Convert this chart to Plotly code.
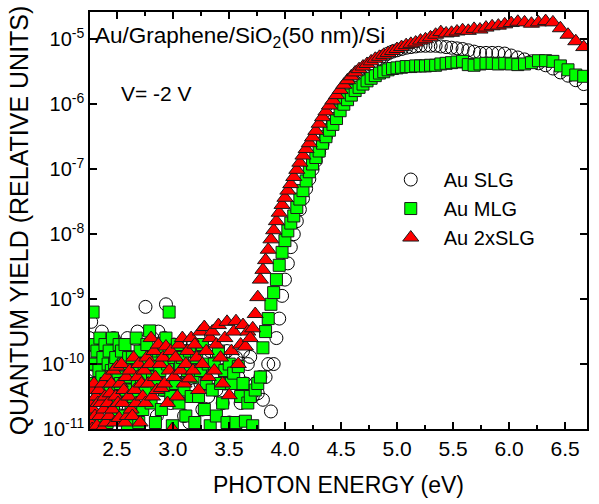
import plotly.graph_objects as go

# Monochromator scan: constant 2 nm wavelength step, converted to photon energy
wavelength_nm = list(range(550, 184, -2))
photon_energy_ev = [1239.84 / w for w in wavelength_nm]

# log10 of the quantum yield, one value per wavelength step (550 nm -> 186 nm)
slg_log10 = [
    -9.6, -10.2, -9.35, -10.5, -9.9, -10.8, -10.1, -9.7, -10.4, -10.0,
    -9.8, -10.6, -10.2, -9.5, -10.9, -10.3, -9.9, -10.5, -10.1, -9.7,
    -10.4, -9.9, -10.7, -10.0, -9.6, -10.3, -10.8, -9.8, -10.2, -10.5,
    -9.7, -10.1, -10.6, -9.9, -10.4, -10.0, -9.6, -10.7, -10.2, -9.8,
    -10.3, -9.7, -10.9, -10.0, -9.5, -10.4, -10.1, -9.8, -10.6, -9.9,
    -9.12, -10.2, -9.7, -10.5, -10.0, -9.6, -10.3, -9.9, -10.8, -9.5,
    -10.1, -9.8, -10.4, -9.6, -9.08, -10.2, -9.9, -10.6, -10.0, -9.7,
    -10.3, -9.9, -10.5, -9.7, -10.1, -10.8, -9.8, -10.2, -10.9, -10.0,
    -9.7, -10.4, -10.0, -9.6, -10.3, -10.7, -9.9, -10.1, -10.5, -9.8,
    -10.2, -9.7, -10.4, -10.0, -9.9, -10.6, -10.3, -9.8, -10.9, -10.1,
    -10.4, -9.9, -10.2, -10.6, -9.8, -10.3, -10.0, -9.89, -10.5, -10.3,
    -10.45, -10.2, -10.55, -10.2, -10.0, -10.73, -10.0, -9.6, -9.3, -8.95,
    -8.7, -8.45, -8.2, -8.0, -7.8, -7.62, -7.45, -7.3, -7.15, -7.0,
    -6.87, -6.74, -6.62, -6.5, -6.38, -6.26, -6.14, -6.03, -5.93, -5.83,
    -5.74, -5.66, -5.58, -5.51, -5.45, -5.39, -5.34, -5.30, -5.26, -5.22,
    -5.19, -5.17, -5.15, -5.13, -5.12, -5.11, -5.10, -5.10, -5.10, -5.10,
    -5.11, -5.12, -5.13, -5.14, -5.15, -5.17, -5.19, -5.21, -5.21, -5.21,
    -5.21, -5.22, -5.25, -5.28, -5.31, -5.34, -5.37, -5.40, -5.45, -5.51,
    -5.56, -5.63, -5.69,
]

mlg_log10 = [
    -10.0, -10.6, -9.7, -10.9, -9.2, -10.3, -10.0, -10.8, -9.8, -10.4,
    -10.1, -9.6, -11.0, -10.2, -9.9, -10.5, -9.7, -10.3, -10.9, -10.0,
    -9.8, -10.4, -10.1, -9.6, -10.7, -10.0, -9.9, -10.5, -10.2, -9.7,
    -10.3, -9.8, -10.8, -10.0, -9.7, -10.4, -10.95, -9.9, -10.2, -10.6,
    -9.9, -10.5, -10.1, -9.6, -10.3, -10.9, -9.8, -10.2, -10.7, -10.0,
    -10.4, -9.7, -10.0, -9.49, -10.6, -10.2, -9.9, -10.9, -10.3, -9.8,
    -10.1, -10.7, -9.8, -10.4, -9.6, -10.0, -9.2, -10.5, -10.95, -9.9,
    -10.3, -9.7, -10.6, -10.0, -9.9, -10.4, -10.8, -10.1, -9.8, -10.5,
    -10.2, -10.9, -9.9, -10.5, -10.1, -9.7, -10.7, -10.3, -10.0, -10.95,
    -10.4, -10.0, -10.8, -9.8, -10.3, -10.6, -10.1, -10.9, -10.0, -10.3,
    -10.14, -10.9, -10.04, -10.5, -10.3, -10.88, -10.6, -10.5, -10.95, -10.4,
    -10.3, -10.2, -9.75, -9.5, -9.3, -9.08, -8.9, -8.7, -8.48, -8.28,
    -8.1, -7.95, -7.83, -7.72, -7.59, -7.46, -7.33, -7.18, -7.04, -6.92,
    -6.82, -6.72, -6.60, -6.50, -6.40, -6.31, -6.22, -6.10, -6.00, -5.93,
    -5.86, -5.79, -5.74, -5.69, -5.64, -5.60, -5.56, -5.52, -5.50, -5.47,
    -5.45, -5.44, -5.43, -5.42, -5.42, -5.41, -5.41, -5.41, -5.40, -5.40,
    -5.38, -5.37, -5.36, -5.35, -5.34, -5.39, -5.40, -5.38, -5.37, -5.37,
    -5.38, -5.37, -5.38, -5.39, -5.38, -5.36, -5.33, -5.33, -5.34, -5.41,
    -5.47, -5.55, -5.57,
]

slg2x_log10 = [
    -10.6, -10.9, -10.4, -11.0, -10.7, -10.3, -10.8, -10.5, -10.95, -10.6,
    -10.4, -10.8, -10.6, -11.0, -10.3, -10.7, -10.5, -10.9, -10.2, -10.6,
    -10.8, -10.45, -10.3, -10.7, -10.1, -10.9, -10.5, -10.04, -10.6, -10.83,
    -10.3, -10.0, -10.6, -10.4, -10.9, -10.2, -10.8, -10.5, -10.1, -10.7,
    -10.8, -9.9, -10.4, -10.6, -10.2, -10.0, -10.9, -10.3, -10.5, -10.1,
    -10.6, -9.9, -10.3, -10.0, -9.6, -10.5, -9.8, -10.2, -10.4, -9.7,
    -10.0, -10.37, -9.9, -10.3, -9.73, -10.6, -10.1, -9.8, -11.0, -10.2,
    -9.9, -10.5, -9.7, -10.1, -9.6, -10.3, -10.0, -9.8, -10.22, -9.6,
    -10.1, -9.7, -9.9, -10.4, -9.5, -10.0, -9.43, -9.8, -10.2, -9.6,
    -9.5, -10.1, -9.7, -9.4, -9.9, -10.3, -9.6, -9.35, -10.48, -9.8,
    -9.5, -9.34, -10.0, -9.7, -9.4, -9.73, -9.5, -9.6, -9.45, -9.23,
    -8.97, -8.7, -8.55, -8.4, -8.24, -8.08, -7.94, -7.8, -7.67, -7.55,
    -7.44, -7.33, -7.23, -7.12, -7.01, -6.90, -6.79, -6.69, -6.60, -6.51,
    -6.41, -6.30, -6.20, -6.11, -6.02, -5.94, -5.86, -5.78, -5.70, -5.63,
    -5.57, -5.51, -5.46, -5.42, -5.38, -5.34, -5.30, -5.27, -5.24, -5.21,
    -5.18, -5.15, -5.12, -5.09, -5.07, -5.05, -5.02, -5.00, -4.97, -4.93,
    -4.89, -4.91, -4.90, -4.88, -4.86, -4.87, -4.84, -4.85, -4.82, -4.80,
    -4.79, -4.77, -4.75, -4.73, -4.74, -4.76, -4.74, -4.72, -4.74, -4.83,
    -4.93, -5.03, -5.12,
]

x_tick_values = [2.5, 3.0, 3.5, 4.0, 4.5, 5.0, 5.5, 6.0, 6.5]
y_tick_exponents = [-11, -10, -9, -8, -7, -6, -5]

FONT = "Liberation Sans, Arial, sans-serif"

series = [
    ("Au SLG", slg_log10,
     dict(symbol="circle-open", size=13, color="black", line=dict(width=1))),
    ("Au MLG", mlg_log10,
     dict(symbol="square", size=12, color="#00ff00", line=dict(color="#1a1a1a", width=1))),
    ("Au 2xSLG", slg2x_log10,
     dict(symbol="triangle-up", size=14, color="#ff0000", line=dict(color="#1a1a1a", width=1))),
]

fig = go.Figure()
for name, logs, marker in series:
    fig.add_trace(go.Scatter(
        x=photon_energy_ev,
        y=[10 ** v for v in logs],
        mode="markers",
        name=name,
        marker=marker,
    ))

axis_common = dict(
    showline=True, linecolor="black", linewidth=1.5, mirror="ticks",
    ticks="inside", tickcolor="black", tickwidth=1.5, ticklen=7,
    showgrid=False, zeroline=False,
)

fig.update_xaxes(
    range=[2.26, 6.695],
    tickvals=x_tick_values,
    ticktext=[f"{v:.1f}" for v in x_tick_values],
    tickfont=dict(family=FONT, size=21, color="black"),
    minor=dict(ticks="inside", dtick=0.25, tick0=2.25, ticklen=4,
               tickcolor="black", tickwidth=1.5, showgrid=False),
    title=dict(text="PHOTON ENERGY (eV)", font=dict(family=FONT, size=23, color="black"),
               standoff=18),
    **axis_common,
)

fig.update_yaxes(
    type="log",
    range=[-11, -4.58],
    tickvals=[10 ** e for e in y_tick_exponents],
    ticktext=[f"10<sup>{e}</sup>" for e in y_tick_exponents],
    tickfont=dict(family=FONT, size=20, color="black"),
    title=dict(text="QUANTUM YIELD (RELATIVE UNITS)", font=dict(family=FONT, size=25, color="black"),
               standoff=6),
    **axis_common,
)

fig.add_annotation(
    text="Au/Graphene/SiO<sub>2</sub>(50 nm)/Si",
    xref="paper", yref="paper", x=0.006, y=0.94,
    xanchor="left", yanchor="middle", showarrow=False,
    font=dict(family=FONT, size=22.5, color="black"),
)
fig.add_annotation(
    text="V= -2 V",
    xref="paper", yref="paper", x=0.058, y=0.805,
    xanchor="left", yanchor="middle", showarrow=False,
    font=dict(family=FONT, size=21, color="black"),
)

fig.update_layout(
    width=599, height=504,
    margin=dict(l=90, r=10, t=10, b=73),
    paper_bgcolor="white", plot_bgcolor="white",
    showlegend=True,
    legend=dict(
        x=0.579, y=0.645, xanchor="left", yanchor="top",
        bgcolor="rgba(0,0,0,0)", borderwidth=0,
        itemwidth=56,
        font=dict(family=FONT, size=20, color="black"),
        tracegroupgap=0,
    ),
)

fig.write_html("out.html")
